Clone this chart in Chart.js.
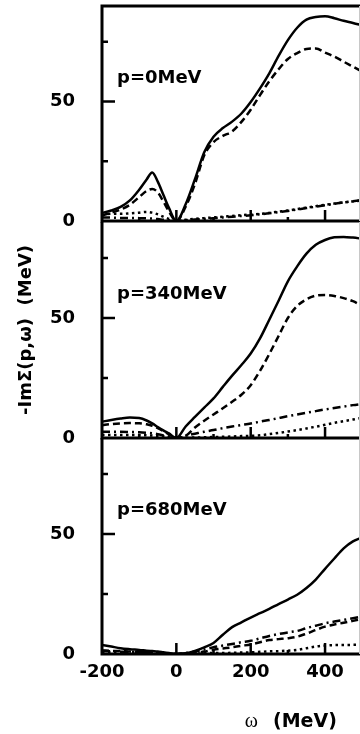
<!DOCTYPE html>
<html>
<head>
<meta charset="utf-8">
<script src="https://cdn.jsdelivr.net/npm/chart.js@4.4.1/dist/chart.umd.min.js"></script>
<style>
  html, body { margin: 0; padding: 0; background: #fff; overflow: hidden; }
  #wrap { position: relative; width: 360px; height: 734px; }
  #wrap canvas { position: absolute; left: 0; top: 0; }
</style>
</head>
<body>
<div id="wrap">
  <canvas id="panel0" width="360" height="734"></canvas>
  <canvas id="panel1" width="360" height="734"></canvas>
  <canvas id="panel2" width="360" height="734"></canvas>
</div>
<script>
// energy grid (MeV)
const omega = [-200, -175, -150, -125, -100, -80, -65, -50, -35, -20, 0,
  25, 50, 75, 100, 125, 150, 175, 200, 225, 250, 275, 300, 325, 350, 375, 400, 425, 450, 475, 500];

// p = 0 MeV
const p0Solid = [3.4, 4.4, 5.9, 8.6, 13.1, 17.4, 20.3, 16.5, 11, 5.5, 0,
  7, 17.5, 28.8, 35.3, 38.9, 41.6, 45, 49.8, 55.5, 61.8, 69.1, 75.7, 80.9, 84.3, 85.4, 85.7, 84.9, 83.8, 82.9, 81.9];
const p0Dashed = [2.3, 3.5, 4.8, 6.8, 10, 12.6, 13.4, 12, 8.2, 4, 0,
  6, 15.5, 27.5, 33, 35.6, 37.5, 41.5, 46.6, 52.7, 58.5, 63.5, 67.8, 70.3, 72, 72.2, 70.5, 68.8, 66.7, 64.6, 62.5];
const p0DashDot = [1.5, 1.4, 1.3, 1.3, 1.2, 1.1, 1, 0.8, 0.5, 0.3, 0,
  0.3, 0.6, 0.9, 1.2, 1.5, 1.8, 2.1, 2.4, 2.8, 3.2, 3.7, 4.2, 4.8, 5.4, 6, 6.6, 7.2, 7.8, 8.3, 8.8];
const p0Dotted = [2.5, 3, 3, 3.2, 3.5, 3.8, 3.5, 2.8, 1.8, 0.9, 0,
  0.5, 0.9, 1.2, 1.5, 1.8, 2.1, 2.4, 2.7, 3, 3.4, 3.9, 4.4, 5, 5.6, 6.2, 6.8, 7.3, 7.8, 8.2, 8.6];

// p = 340 MeV
const p340Solid = [6.8, 7.5, 8.1, 8.5, 8.3, 7.3, 6.1, 4.6, 3.2, 1.9, 0,
  4.8, 8.8, 12.7, 16.5, 21.3, 26, 30.4, 35.2, 41.5, 49.3, 57.2, 65.3, 71.5, 76.8, 80.5, 82.5, 83.6, 83.8, 83.5, 83];
const p340Dashed = [5.3, 5.8, 6.1, 6.2, 6.1, 5.7, 5.1, 4.1, 2.9, 1.6, 0,
  0.9, 4.4, 7.2, 9.8, 12.4, 15.1, 18, 22, 28, 35, 42.5, 50, 55, 57.8, 59.3, 59.6, 59.2, 58.3, 57, 55];
const p340DashDot = [2.6, 2.6, 2.6, 2.5, 2.4, 2.2, 2, 1.6, 1.1, 0.6, 0,
  1, 1.8, 2.6, 3.3, 4.1, 4.8, 5.4, 6, 6.8, 7.5, 8.3, 9.1, 9.8, 10.5, 11.2, 11.9, 12.5, 13.1, 13.7, 14.2];
const p340Dotted = [1.3, 1.3, 1.3, 1.3, 1.2, 1.1, 1, 0.9, 0.7, 0.4, 0,
  0.1, 0.2, 0.3, 0.4, 0.5, 0.6, 0.8, 0.9, 1.1, 1.6, 2.1, 2.7, 3.3, 4, 4.7, 5.5, 6.3, 7, 7.7, 8.4];

// p = 680 MeV
const p680Solid = [3.8, 3.1, 2.4, 2, 1.7, 1.4, 1.2, 1, 0.7, 0.4, 0,
  0.3, 1.3, 2.8, 4.6, 8, 11.2, 13.2, 15.2, 17, 18.8, 20.8, 22.7, 24.7, 27.5, 31, 35.5, 39.8, 44, 46.9, 48.6];
const p680Dashed = [1.5, 1.3, 1.2, 1, 0.9, 0.8, 0.7, 0.6, 0.4, 0.2, 0,
  0.2, 0.5, 1, 1.8, 2.3, 2.8, 3.4, 4, 4.9, 5.8, 6.2, 6.6, 7.2, 8.5, 10, 11.4, 12.3, 13, 13.8, 14.6];
const p680DashDot = [1.2, 1.1, 1, 0.9, 0.8, 0.7, 0.6, 0.5, 0.3, 0.2, 0,
  0.4, 1, 1.9, 2.8, 3.5, 4.2, 4.9, 5.5, 6.5, 7.5, 8.3, 9, 9.6, 10.8, 11.8, 12.8, 13.5, 14.2, 14.9, 15.6];
const p680Dotted = [0.8, 0.8, 0.7, 0.7, 0.6, 0.5, 0.5, 0.4, 0.3, 0.2, 0,
  0.1, 0.2, 0.3, 0.4, 0.4, 0.5, 0.6, 0.7, 0.9, 1.1, 1.2, 1.4, 1.7, 2.4, 3.1, 3.5, 3.7, 3.75, 3.8, 3.85];

const panelLabels = ['p=0MeV', 'p=340MeV', 'p=680MeV'];
const xTicks = [-200, 0, 200, 400];
const xMinorTicks = [-100, 100, 300];
const yTicks = [0, 50];
const yMinorTicks = [25, 75];
const yTitle = '-Im\u03A3(p,\u03C9)  (MeV)';

const panels = [
  [p0Solid, p0Dashed, p0DashDot, p0Dotted],
  [p340Solid, p340Dashed, p340DashDot, p340Dotted],
  [p680Solid, p680Dashed, p680DashDot, p680Dotted]
];

const dashes = [[], [7, 4], [8, 4, 2, 4], [2.5, 3.5]];
const panelBox = [[6, 221], [222, 438], [438, 654]];
const FONT = 'DejaVu Sans';
const tickFont = { family: FONT, size: 18, weight: 'bold' };

const framePlugin = {
  id: 'frame',
  afterDatasetsDraw(chart, args, opts) {
    const { ctx, chartArea: a, scales: { x, y } } = chart;
    ctx.save();
    ctx.strokeStyle = '#000';
    ctx.lineWidth = 3;
    ctx.beginPath();
    if (opts.top) {
      ctx.moveTo(a.left - 1.5, a.top);
      ctx.lineTo(a.right, a.top);
    }
    ctx.moveTo(a.left, a.top);
    ctx.lineTo(a.left, a.bottom + 1.5);
    ctx.moveTo(a.left - 1.5, a.bottom);
    ctx.lineTo(a.right, a.bottom);
    ctx.stroke();

    // inward tick marks
    ctx.lineWidth = 2.5;
    ctx.beginPath();
    xTicks.forEach(v => {
      const px = x.getPixelForValue(v);
      if (v > -200) { ctx.moveTo(px, a.bottom); ctx.lineTo(px, a.bottom - 11); }
    });
    xMinorTicks.forEach(v => {
      const px = x.getPixelForValue(v);
      ctx.moveTo(px, a.bottom); ctx.lineTo(px, a.bottom - 4);
    });
    ctx.moveTo(a.left, y.getPixelForValue(50)); ctx.lineTo(a.left + 13, y.getPixelForValue(50));
    yMinorTicks.forEach(v => {
      const py = y.getPixelForValue(v);
      ctx.moveTo(a.left, py); ctx.lineTo(a.left + 6, py);
    });
    ctx.stroke();

    // image edge
    ctx.strokeStyle = '#c8c8c8';
    ctx.lineWidth = 1;
    ctx.beginPath();
    ctx.moveTo(359.5, a.top);
    ctx.lineTo(359.5, a.bottom);
    ctx.stroke();

    ctx.fillStyle = '#000';
    ctx.font = 'bold 18px "' + FONT + '"';
    ctx.textBaseline = 'alphabetic';
    ctx.textAlign = 'left';
    ctx.fillText(opts.label, a.left + 15, a.top + 77);

    if (opts.xTitle) {
      const cx = x.getPixelForValue(300) + 3;
      ctx.font = '20px "Liberation Serif"';
      const wo = ctx.measureText('\u03C9').width;
      ctx.font = 'bold 19px "' + FONT + '"';
      const wm = ctx.measureText('(MeV)').width;
      const gap = 15;
      const left = cx - (wo + gap + wm) / 2;
      ctx.font = '20px "Liberation Serif"';
      ctx.fillText('\u03C9', left, 727);
      ctx.font = 'bold 19px "' + FONT + '"';
      ctx.fillText('(MeV)', left + wo + gap, 727);
    }
    ctx.restore();
  }
};

function makePanel(idx) {
  const isLast = idx === panels.length - 1;
  const xh = isLast ? 40 : 0;
  const box = panelBox[idx];
  new Chart(document.getElementById('panel' + idx), {
    type: 'line',
    data: {
      datasets: panels[idx].map((vals, k) => ({
        data: omega.map((w, i) => ({ x: w, y: vals[i] })),
        borderColor: '#000',
        borderWidth: 2.5,
        borderDash: dashes[k],
        pointRadius: 0,
        fill: false,
        cubicInterpolationMode: 'monotone'
      }))
    },
    options: {
      responsive: false,
      animation: false,
      events: [],
      layout: { padding: { top: box[0], bottom: 734 - box[1] - xh, left: 0, right: 0 } },
      plugins: {
        legend: { display: false },
        tooltip: { enabled: false },
        frame: { label: panelLabels[idx], top: idx === 0, xTitle: isLast }
      },
      scales: {
        x: {
          type: 'linear',
          min: -200,
          max: 494,
          display: isLast,
          grid: { display: false, drawTicks: false },
          border: { display: false },
          ticks: { font: tickFont, color: '#000', padding: 8, maxRotation: 0 },
          afterBuildTicks: s => { s.ticks = xTicks.map(v => ({ value: v })); },
          afterFit: s => { s.height = xh; s.paddingLeft = 0; s.paddingRight = 0; }
        },
        y: {
          min: 0,
          max: 90,
          grid: { display: false, drawTicks: false },
          border: { display: false },
          ticks: { font: tickFont, color: '#000', padding: 27 },
          afterBuildTicks: s => { s.ticks = yTicks.map(v => ({ value: v })); },
          afterFit: s => { s.width = 102; s.paddingTop = 0; s.paddingBottom = 0; },
          title: {
            display: idx === 1,
            text: yTitle,
            color: '#000',
            font: { family: FONT, size: 18, weight: 'bold' },
            padding: { top: 16, bottom: 0 }
          }
        }
      }
    },
    plugins: [framePlugin]
  });
}

panels.forEach((p, i) => makePanel(i));
</script>
</body>
</html>
